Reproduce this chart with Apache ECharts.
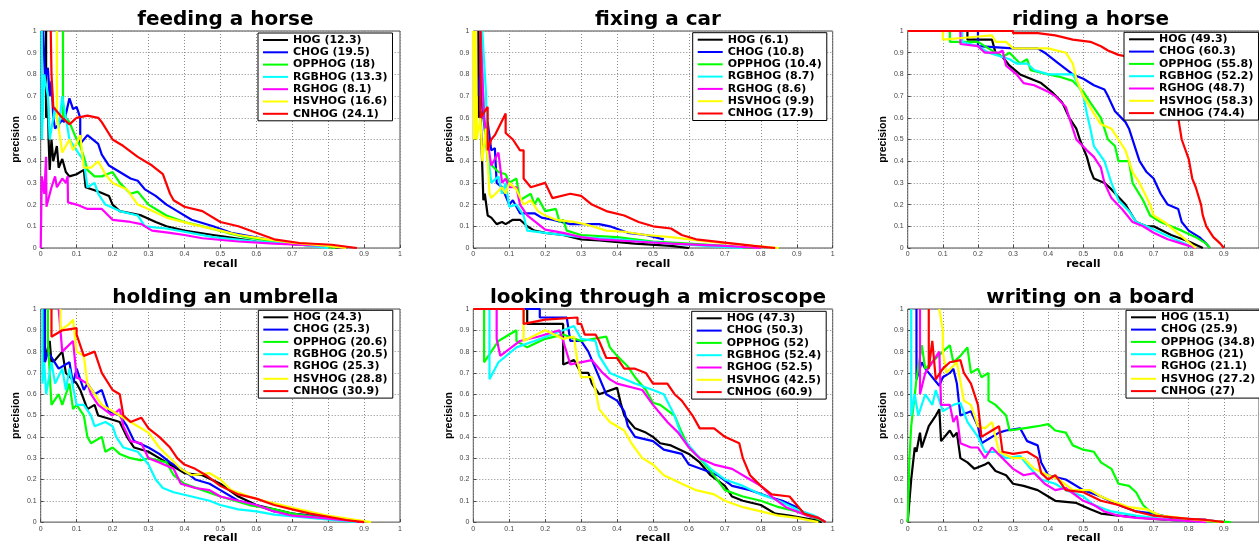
<!DOCTYPE html>
<html><head><meta charset="utf-8">
<script src="https://cdn.jsdelivr.net/npm/echarts@6/dist/echarts.min.js"></script>
<style>html,body{margin:0;padding:0;background:#fff}#c{width:1259px;height:545px}</style>
</head><body><div id="c"></div>
<script>
// ---------- DATA ----------
const METHODS = ['HOG','CHOG','OPPHOG','RGBHOG','RGHOG','HSVHOG','CNHOG'];
const TITLES = ['feeding a horse','fixing a car','riding a horse','holding an umbrella','looking through a microscope','writing on a board'];
const AP_feeding = [12.3,19.5,18,13.3,8.1,16.6,24.1];
const AP_fixing = [6.1,10.8,10.4,8.7,8.6,9.9,17.9];
const AP_riding = [49.3,60.3,55.8,52.2,48.7,58.3,74.4];
const AP_umbrella = [24.3,25.3,20.6,20.5,25.3,28.8,30.9];
const AP_micro = [47.3,50.3,52,52.4,52.5,42.5,60.9];
const AP_writing = [15.1,25.9,34.8,21,21.1,27.2,27];
const TICKS = [0,0.1,0.2,0.3,0.4,0.5,0.6,0.7,0.8,0.9,1];

// feeding a horse: [recall, precision]
const feeding_HOG = [[0.015,1],[0.015,0.6],[0.02,0.7],[0.022,0.5],[0.025,0.36],[0.03,0.5],[0.035,0.4],[0.045,0.47],[0.05,0.37],[0.06,0.41],[0.07,0.35],[0.08,0.33],[0.1,0.34],[0.12,0.36],[0.125,0.28],[0.16,0.26],[0.19,0.24],[0.2,0.2],[0.22,0.17],[0.28,0.15],[0.32,0.12],[0.35,0.1],[0.4,0.08],[0.48,0.06],[0.52,0.05],[0.6,0.03],[0.72,0.015],[0.85,0]];
const feeding_CHOG = [[0.007,1],[0.012,1],[0.012,0.78],[0.02,0.83],[0.025,0.7],[0.03,0.77],[0.035,0.6],[0.04,0.55],[0.06,0.59],[0.065,0.58],[0.08,0.69],[0.09,0.64],[0.1,0.65],[0.11,0.6],[0.11,0.48],[0.13,0.52],[0.16,0.48],[0.17,0.43],[0.19,0.38],[0.22,0.35],[0.25,0.32],[0.27,0.31],[0.29,0.27],[0.32,0.24],[0.35,0.2],[0.38,0.17],[0.42,0.13],[0.48,0.1],[0.53,0.07],[0.63,0.04]];
const feeding_OPPHOG = [[0.062,1],[0.062,0.61],[0.07,0.6],[0.08,0.58],[0.09,0.54],[0.1,0.5],[0.11,0.47],[0.12,0.42],[0.13,0.36],[0.15,0.33],[0.17,0.33],[0.2,0.35],[0.22,0.3],[0.25,0.25],[0.27,0.26],[0.3,0.2],[0.35,0.15],[0.4,0.12],[0.45,0.1],[0.52,0.07],[0.57,0.05],[0.65,0.03],[0.75,0.015],[0.82,0]];
const feeding_RGBHOG = [[0.003,1],[0.003,0.5],[0.01,0.8],[0.02,0.7],[0.025,0.5],[0.04,0.65],[0.05,0.55],[0.06,0.7],[0.07,0.6],[0.08,0.5],[0.1,0.45],[0.12,0.4],[0.13,0.28],[0.15,0.3],[0.16,0.25],[0.18,0.2],[0.22,0.17],[0.27,0.15],[0.29,0.1],[0.35,0.09],[0.4,0.075],[0.48,0.05],[0.6,0.03],[0.7,0.02],[0.8,0]];
const feeding_RGHOG = [[0,0],[0.003,0.33],[0.01,0.25],[0.015,0.42],[0.016,0.19],[0.03,0.28],[0.04,0.33],[0.045,0.28],[0.06,0.32],[0.07,0.3],[0.075,0.33],[0.076,0.21],[0.1,0.2],[0.13,0.18],[0.17,0.18],[0.2,0.13],[0.25,0.12],[0.28,0.11],[0.31,0.08],[0.36,0.07],[0.4,0.06],[0.45,0.045],[0.55,0.03],[0.65,0.02],[0.8,0.01],[0.85,0]];
const feeding_HSVHOG = [[0.045,1],[0.045,0.6],[0.05,0.55],[0.06,0.44],[0.08,0.5],[0.09,0.45],[0.11,0.52],[0.12,0.37],[0.14,0.37],[0.16,0.4],[0.18,0.34],[0.2,0.3],[0.24,0.27],[0.27,0.2],[0.3,0.18],[0.35,0.14],[0.42,0.11],[0.5,0.08],[0.55,0.06],[0.63,0.04],[0.7,0.025],[0.8,0.01],[0.85,0]];
const feeding_CNHOG = [[0.028,1],[0.03,1],[0.03,0.8],[0.035,0.65],[0.05,0.62],[0.06,0.6],[0.08,0.57],[0.1,0.6],[0.13,0.61],[0.16,0.6],[0.17,0.58],[0.2,0.5],[0.23,0.47],[0.27,0.42],[0.31,0.38],[0.34,0.34],[0.36,0.25],[0.37,0.22],[0.4,0.19],[0.45,0.17],[0.5,0.12],[0.55,0.1],[0.6,0.07],[0.65,0.04],[0.72,0.023],[0.81,0.015],[0.88,0]];

// fixing a car
const fixing_HOG = [[0.015,1],[0.015,0.6],[0.02,0.63],[0.028,0.22],[0.032,0.25],[0.04,0.15],[0.05,0.14],[0.065,0.11],[0.08,0.12],[0.09,0.11],[0.11,0.13],[0.13,0.13],[0.15,0.1],[0.17,0.08],[0.2,0.07],[0.25,0.06],[0.3,0.04],[0.35,0.035],[0.45,0.02],[0.55,0.01],[0.6,0]];
const fixing_CHOG = [[0.01,1],[0.012,0.7],[0.02,0.8],[0.025,0.65],[0.035,0.5],[0.04,0.58],[0.05,0.45],[0.06,0.46],[0.065,0.3],[0.08,0.28],[0.1,0.2],[0.11,0.22],[0.13,0.16],[0.17,0.16],[0.19,0.14],[0.22,0.13],[0.27,0.11],[0.35,0.11],[0.38,0.1],[0.43,0.07],[0.48,0.06],[0.53,0.04]];
const fixing_OPPHOG = [[0.02,1],[0.03,0.6],[0.04,0.4],[0.07,0.35],[0.09,0.34],[0.1,0.3],[0.12,0.32],[0.13,0.22],[0.16,0.25],[0.17,0.2],[0.18,0.23],[0.2,0.17],[0.23,0.18],[0.24,0.12],[0.25,0.13],[0.26,0.08],[0.3,0.06],[0.4,0.05],[0.5,0.03],[0.6,0.02],[0.7,0.01],[0.78,0]];
const fixing_RGBHOG = [[0.025,1],[0.035,0.72],[0.04,0.45],[0.05,0.3],[0.07,0.33],[0.08,0.25],[0.09,0.3],[0.1,0.19],[0.12,0.2],[0.14,0.15],[0.15,0.08],[0.2,0.07],[0.3,0.05],[0.4,0.04],[0.55,0.02],[0.65,0.01],[0.75,0]];
const fixing_RGHOG = [[0.02,1],[0.03,0.6],[0.05,0.38],[0.07,0.44],[0.08,0.3],[0.09,0.32],[0.1,0.28],[0.12,0.28],[0.13,0.2],[0.15,0.15],[0.2,0.085],[0.25,0.07],[0.3,0.05],[0.35,0.04],[0.45,0.03],[0.55,0.02],[0.7,0.01],[0.8,0]];
const fixing_HSVHOG = [[0,1],[0.002,0.5],[0.004,1],[0.006,0.5],[0.008,1],[0.01,0.5],[0.015,0.5],[0.02,0.6],[0.025,0.4],[0.035,0.55],[0.045,0.25],[0.05,0.23],[0.08,0.28],[0.09,0.25],[0.1,0.3],[0.12,0.27],[0.14,0.2],[0.16,0.22],[0.18,0.17],[0.2,0.15],[0.23,0.13],[0.28,0.12],[0.31,0.11],[0.33,0.1],[0.37,0.08],[0.42,0.075],[0.48,0.06],[0.55,0.05],[0.65,0.03],[0.75,0.015],[0.85,0]];
const fixing_CNHOG = [[0.02,1],[0.02,0.6],[0.04,0.65],[0.04,0.45],[0.05,0.5],[0.06,0.52],[0.09,0.62],[0.09,0.53],[0.11,0.5],[0.13,0.45],[0.14,0.45],[0.14,0.32],[0.16,0.28],[0.2,0.3],[0.22,0.23],[0.27,0.25],[0.3,0.24],[0.33,0.2],[0.37,0.17],[0.42,0.15],[0.46,0.12],[0.5,0.1],[0.55,0.09],[0.58,0.06],[0.62,0.04],[0.7,0.025],[0.78,0.01],[0.84,0]];

// riding a horse
const riding_HOG = [[0,1],[0.17,1],[0.17,0.96],[0.24,0.96],[0.25,0.9],[0.27,0.88],[0.29,0.84],[0.32,0.8],[0.35,0.78],[0.38,0.76],[0.41,0.72],[0.44,0.67],[0.46,0.6],[0.48,0.55],[0.49,0.5],[0.51,0.42],[0.52,0.36],[0.53,0.32],[0.56,0.3],[0.58,0.27],[0.62,0.2],[0.65,0.12],[0.68,0.1],[0.7,0.1],[0.75,0.06],[0.8,0.03],[0.84,0]];
const riding_CHOG = [[0,1],[0.2,1],[0.2,0.93],[0.3,0.92],[0.37,0.92],[0.39,0.9],[0.43,0.85],[0.47,0.8],[0.5,0.78],[0.53,0.75],[0.56,0.73],[0.57,0.7],[0.59,0.63],[0.62,0.58],[0.63,0.55],[0.65,0.45],[0.66,0.4],[0.68,0.35],[0.7,0.32],[0.72,0.25],[0.74,0.2],[0.77,0.18],[0.78,0.12],[0.8,0.08],[0.83,0.05],[0.85,0.02],[0.86,0]];
const riding_OPPHOG = [[0,1],[0.12,1],[0.12,0.95],[0.2,0.95],[0.23,0.92],[0.27,0.88],[0.29,0.9],[0.32,0.85],[0.34,0.87],[0.35,0.82],[0.4,0.8],[0.43,0.79],[0.47,0.77],[0.5,0.72],[0.52,0.67],[0.55,0.6],[0.57,0.5],[0.59,0.47],[0.6,0.4],[0.63,0.4],[0.64,0.3],[0.67,0.22],[0.69,0.15],[0.72,0.12],[0.75,0.1],[0.78,0.08],[0.82,0.05],[0.85,0.02],[0.86,0]];
const riding_RGBHOG = [[0,1],[0.155,1],[0.155,0.95],[0.2,0.93],[0.23,0.9],[0.27,0.88],[0.29,0.87],[0.31,0.85],[0.34,0.85],[0.36,0.82],[0.4,0.8],[0.47,0.8],[0.48,0.77],[0.5,0.7],[0.51,0.62],[0.52,0.55],[0.53,0.47],[0.56,0.4],[0.57,0.35],[0.58,0.3],[0.6,0.22],[0.63,0.17],[0.65,0.12],[0.68,0.1],[0.72,0.07],[0.76,0.04],[0.79,0.02],[0.81,0]];
const riding_RGHOG = [[0,1],[0.15,1],[0.15,0.94],[0.2,0.93],[0.22,0.9],[0.26,0.9],[0.27,0.91],[0.28,0.84],[0.31,0.8],[0.33,0.76],[0.36,0.75],[0.4,0.72],[0.42,0.7],[0.45,0.65],[0.46,0.6],[0.47,0.55],[0.48,0.5],[0.51,0.45],[0.53,0.42],[0.55,0.37],[0.56,0.3],[0.58,0.23],[0.61,0.18],[0.64,0.12],[0.67,0.1],[0.7,0.07],[0.74,0.04],[0.78,0.02],[0.82,0]];
const riding_HSVHOG = [[0,1],[0.1,1],[0.1,0.96],[0.17,0.97],[0.24,0.98],[0.25,0.95],[0.28,0.95],[0.3,0.92],[0.4,0.92],[0.45,0.9],[0.47,0.85],[0.48,0.78],[0.5,0.7],[0.53,0.62],[0.55,0.57],[0.58,0.55],[0.6,0.5],[0.62,0.45],[0.64,0.35],[0.66,0.3],[0.69,0.2],[0.7,0.15],[0.73,0.12],[0.76,0.08],[0.79,0.04],[0.82,0]];
const riding_CNHOG = [[0,1],[0.3,1],[0.3,0.99],[0.37,0.99],[0.42,0.98],[0.47,0.96],[0.52,0.95],[0.55,0.93],[0.57,0.91],[0.6,0.89],[0.63,0.88],[0.68,0.85],[0.72,0.8],[0.75,0.72],[0.77,0.6],[0.78,0.5],[0.8,0.41],[0.81,0.32],[0.82,0.28],[0.835,0.2],[0.84,0.15],[0.85,0.1],[0.87,0.05],[0.89,0.02],[0.9,0]];

// holding an umbrella
const umbrella_HOG = [[0.01,1],[0.01,0.75],[0.025,0.85],[0.03,0.75],[0.04,0.76],[0.06,0.8],[0.07,0.7],[0.1,0.65],[0.11,0.62],[0.13,0.53],[0.15,0.55],[0.16,0.5],[0.2,0.48],[0.22,0.47],[0.24,0.4],[0.26,0.35],[0.3,0.33],[0.33,0.3],[0.36,0.27],[0.4,0.23],[0.45,0.22],[0.5,0.18],[0.55,0.12],[0.6,0.08],[0.65,0.06],[0.7,0.04],[0.75,0.03],[0.8,0.02],[0.85,0.01],[0.9,0]];
const umbrella_CHOG = [[0.012,1],[0.012,0.75],[0.02,0.8],[0.05,0.72],[0.08,0.75],[0.09,0.65],[0.1,0.72],[0.12,0.62],[0.13,0.65],[0.15,0.6],[0.17,0.62],[0.19,0.52],[0.22,0.5],[0.24,0.45],[0.26,0.38],[0.3,0.35],[0.33,0.32],[0.36,0.28],[0.4,0.24],[0.43,0.2],[0.47,0.18],[0.5,0.15],[0.55,0.1],[0.6,0.08],[0.65,0.05],[0.7,0.04],[0.75,0.03],[0.82,0.015],[0.9,0]];
const umbrella_OPPHOG = [[0.02,1],[0.02,0.85],[0.03,0.55],[0.05,0.6],[0.06,0.55],[0.07,0.6],[0.08,0.65],[0.09,0.53],[0.1,0.55],[0.12,0.5],[0.13,0.4],[0.14,0.37],[0.17,0.4],[0.18,0.33],[0.2,0.35],[0.22,0.32],[0.25,0.3],[0.28,0.29],[0.3,0.3],[0.35,0.28],[0.37,0.22],[0.4,0.18],[0.45,0.15],[0.5,0.12],[0.58,0.08],[0.65,0.06],[0.7,0.04],[0.78,0.02],[0.88,0]];
const umbrella_RGBHOG = [[0.005,1],[0.005,0.65],[0.01,0.75],[0.015,0.6],[0.03,0.75],[0.04,0.65],[0.06,0.72],[0.07,0.62],[0.08,0.72],[0.1,0.55],[0.12,0.55],[0.14,0.5],[0.15,0.45],[0.18,0.47],[0.2,0.45],[0.21,0.4],[0.23,0.35],[0.27,0.33],[0.3,0.27],[0.32,0.2],[0.34,0.16],[0.37,0.14],[0.42,0.12],[0.47,0.1],[0.5,0.08],[0.55,0.06],[0.6,0.05],[0.65,0.035],[0.75,0.02],[0.88,0]];
const umbrella_RGHOG = [[0.05,1],[0.055,0.9],[0.06,0.8],[0.09,0.85],[0.1,0.68],[0.13,0.65],[0.14,0.6],[0.16,0.55],[0.2,0.5],[0.22,0.53],[0.23,0.45],[0.25,0.38],[0.28,0.37],[0.3,0.3],[0.33,0.28],[0.37,0.25],[0.39,0.18],[0.43,0.16],[0.47,0.15],[0.5,0.12],[0.55,0.1],[0.6,0.08],[0.65,0.05],[0.7,0.03],[0.78,0.02],[0.9,0]];
const umbrella_HSVHOG = [[0.055,1],[0.055,0.9],[0.08,0.93],[0.09,0.95],[0.1,0.8],[0.12,0.78],[0.13,0.65],[0.15,0.6],[0.17,0.55],[0.2,0.52],[0.22,0.5],[0.25,0.47],[0.27,0.45],[0.3,0.42],[0.33,0.35],[0.36,0.3],[0.39,0.25],[0.42,0.22],[0.47,0.23],[0.5,0.2],[0.53,0.15],[0.58,0.12],[0.62,0.1],[0.67,0.08],[0.72,0.06],[0.8,0.03],[0.88,0.01],[0.92,0]];
const umbrella_CNHOG = [[0.03,1],[0.03,0.87],[0.06,0.9],[0.1,0.91],[0.1,0.88],[0.12,0.78],[0.15,0.8],[0.17,0.7],[0.2,0.62],[0.22,0.6],[0.23,0.5],[0.25,0.47],[0.28,0.49],[0.3,0.44],[0.33,0.4],[0.36,0.35],[0.38,0.3],[0.4,0.27],[0.43,0.25],[0.46,0.22],[0.5,0.17],[0.55,0.13],[0.6,0.11],[0.65,0.08],[0.7,0.06],[0.75,0.04],[0.8,0.025],[0.85,0.01],[0.9,0]];

// looking through a microscope
const micro_HOG = [[0,1],[0.15,1],[0.15,0.93],[0.25,0.93],[0.25,0.74],[0.28,0.76],[0.3,0.7],[0.32,0.7],[0.33,0.65],[0.35,0.6],[0.4,0.63],[0.41,0.56],[0.42,0.5],[0.45,0.44],[0.48,0.42],[0.5,0.4],[0.52,0.37],[0.55,0.36],[0.6,0.32],[0.63,0.28],[0.66,0.22],[0.7,0.17],[0.72,0.12],[0.75,0.1],[0.8,0.08],[0.84,0.04],[0.88,0.03],[0.95,0.01],[0.97,0]];
const micro_CHOG = [[0,1],[0.185,1],[0.185,0.96],[0.26,0.96],[0.27,0.85],[0.3,0.85],[0.32,0.8],[0.33,0.76],[0.35,0.68],[0.37,0.6],[0.4,0.57],[0.42,0.52],[0.43,0.45],[0.45,0.4],[0.5,0.38],[0.53,0.34],[0.58,0.32],[0.6,0.27],[0.65,0.24],[0.68,0.22],[0.72,0.17],[0.77,0.15],[0.82,0.12],[0.86,0.1],[0.9,0.07],[0.93,0.03],[0.97,0.01],[0.98,0]];
const micro_OPPHOG = [[0.03,1],[0.03,0.75],[0.07,0.85],[0.12,0.9],[0.12,0.85],[0.15,0.82],[0.2,0.86],[0.25,0.88],[0.3,0.85],[0.37,0.87],[0.38,0.82],[0.4,0.78],[0.43,0.73],[0.45,0.68],[0.48,0.62],[0.5,0.56],[0.52,0.55],[0.56,0.5],[0.58,0.42],[0.6,0.35],[0.63,0.3],[0.66,0.24],[0.7,0.15],[0.75,0.12],[0.8,0.1],[0.85,0.07],[0.9,0.05],[0.95,0.02],[0.98,0]];
const micro_RGBHOG = [[0.045,1],[0.045,0.67],[0.07,0.75],[0.12,0.82],[0.17,0.85],[0.25,0.9],[0.28,0.92],[0.3,0.86],[0.34,0.85],[0.35,0.78],[0.38,0.7],[0.45,0.65],[0.5,0.62],[0.53,0.6],[0.56,0.5],[0.58,0.4],[0.62,0.32],[0.66,0.25],[0.7,0.2],[0.75,0.17],[0.8,0.13],[0.85,0.1],[0.9,0.06],[0.95,0.03],[0.98,0]];
const micro_RGHOG = [[0.065,1],[0.065,0.86],[0.075,0.78],[0.13,0.85],[0.18,0.87],[0.24,0.9],[0.25,0.85],[0.27,0.74],[0.33,0.76],[0.36,0.7],[0.38,0.67],[0.4,0.65],[0.47,0.62],[0.5,0.55],[0.54,0.47],[0.57,0.42],[0.6,0.35],[0.63,0.3],[0.67,0.27],[0.72,0.25],[0.77,0.2],[0.8,0.17],[0.83,0.12],[0.87,0.07],[0.93,0.03],[0.96,0.02],[0.98,0]];
const micro_HSVHOG = [[0,1],[0.14,1],[0.14,0.85],[0.2,0.9],[0.25,0.86],[0.28,0.87],[0.29,0.75],[0.3,0.68],[0.33,0.68],[0.34,0.62],[0.35,0.53],[0.38,0.47],[0.42,0.43],[0.44,0.37],[0.47,0.3],[0.5,0.27],[0.53,0.22],[0.58,0.18],[0.62,0.15],[0.67,0.13],[0.7,0.1],[0.75,0.07],[0.8,0.05],[0.85,0.03],[0.9,0.02],[0.96,0]];
const micro_CNHOG = [[0,1],[0.14,1],[0.14,0.93],[0.2,0.95],[0.29,0.96],[0.29,0.93],[0.3,0.93],[0.31,0.88],[0.34,0.88],[0.35,0.85],[0.37,0.77],[0.4,0.77],[0.42,0.72],[0.45,0.72],[0.48,0.7],[0.5,0.65],[0.54,0.65],[0.56,0.6],[0.58,0.57],[0.61,0.5],[0.63,0.44],[0.67,0.44],[0.7,0.4],[0.74,0.37],[0.75,0.3],[0.77,0.22],[0.8,0.17],[0.83,0.13],[0.88,0.12],[0.9,0.08],[0.92,0.04],[0.96,0.02],[0.98,0]];

// writing on a board
const writing_HOG = [[0,0],[0.01,0.2],[0.02,0.35],[0.025,0.33],[0.035,0.42],[0.04,0.35],[0.06,0.45],[0.08,0.5],[0.09,0.53],[0.095,0.38],[0.12,0.43],[0.13,0.4],[0.14,0.42],[0.15,0.3],[0.17,0.28],[0.19,0.25],[0.22,0.27],[0.23,0.28],[0.25,0.24],[0.28,0.22],[0.3,0.18],[0.33,0.17],[0.37,0.15],[0.4,0.12],[0.42,0.1],[0.48,0.09],[0.52,0.06],[0.55,0.04],[0.6,0.03],[0.7,0.015],[0.8,0.005],[0.85,0]];
const writing_CHOG = [[0.025,1],[0.025,0.67],[0.04,0.75],[0.05,0.72],[0.09,0.64],[0.1,0.68],[0.12,0.7],[0.13,0.72],[0.14,0.65],[0.15,0.5],[0.18,0.52],[0.2,0.45],[0.21,0.37],[0.26,0.42],[0.28,0.43],[0.32,0.44],[0.34,0.38],[0.37,0.36],[0.38,0.28],[0.4,0.22],[0.45,0.2],[0.5,0.15],[0.55,0.12],[0.6,0.08],[0.65,0.05],[0.7,0.04],[0.75,0.02],[0.85,0.01],[0.9,0]];
const writing_OPPHOG = [[0,0],[0.005,0.3],[0.01,0.45],[0.025,0.67],[0.04,0.83],[0.05,0.72],[0.1,0.8],[0.12,0.83],[0.13,0.75],[0.15,0.78],[0.17,0.82],[0.18,0.7],[0.2,0.72],[0.21,0.68],[0.23,0.7],[0.23,0.57],[0.25,0.55],[0.28,0.5],[0.29,0.43],[0.33,0.44],[0.37,0.45],[0.4,0.46],[0.42,0.43],[0.45,0.42],[0.47,0.36],[0.5,0.34],[0.53,0.33],[0.55,0.28],[0.58,0.25],[0.6,0.18],[0.63,0.17],[0.65,0.14],[0.67,0.08],[0.69,0.05],[0.72,0.03],[0.78,0.015],[0.85,0.005],[0.92,0]];
const writing_RGBHOG = [[0.01,1],[0.01,0.5],[0.02,0.6],[0.03,0.5],[0.05,0.6],[0.07,0.55],[0.08,0.62],[0.1,0.52],[0.13,0.55],[0.15,0.56],[0.17,0.47],[0.2,0.4],[0.22,0.33],[0.25,0.33],[0.28,0.3],[0.32,0.31],[0.35,0.25],[0.38,0.2],[0.42,0.18],[0.45,0.15],[0.5,0.12],[0.53,0.08],[0.58,0.05],[0.65,0.03],[0.75,0.01],[0.85,0]];
const writing_RGHOG = [[0.035,1],[0.035,0.6],[0.05,0.7],[0.09,0.8],[0.095,0.55],[0.12,0.55],[0.13,0.47],[0.14,0.5],[0.15,0.37],[0.18,0.35],[0.2,0.35],[0.22,0.3],[0.24,0.35],[0.27,0.3],[0.3,0.25],[0.33,0.22],[0.36,0.23],[0.39,0.18],[0.42,0.15],[0.45,0.16],[0.5,0.1],[0.53,0.08],[0.56,0.05],[0.6,0.03],[0.65,0.02],[0.75,0.01],[0.85,0]];
const writing_HSVHOG = [[0.09,1],[0.1,0.9],[0.1,0.8],[0.11,0.7],[0.14,0.75],[0.16,0.57],[0.18,0.55],[0.2,0.45],[0.22,0.44],[0.24,0.47],[0.26,0.33],[0.3,0.3],[0.33,0.3],[0.36,0.25],[0.4,0.22],[0.43,0.2],[0.47,0.15],[0.52,0.15],[0.55,0.12],[0.58,0.1],[0.63,0.07],[0.68,0.06],[0.72,0.03],[0.8,0.015],[0.9,0]];
const writing_CNHOG = [[0.06,1],[0.06,0.72],[0.07,0.85],[0.08,0.67],[0.1,0.72],[0.12,0.75],[0.15,0.76],[0.16,0.7],[0.18,0.65],[0.2,0.55],[0.21,0.4],[0.24,0.43],[0.26,0.45],[0.27,0.33],[0.3,0.32],[0.34,0.33],[0.37,0.3],[0.38,0.23],[0.4,0.2],[0.42,0.22],[0.45,0.15],[0.5,0.14],[0.55,0.1],[0.6,0.08],[0.65,0.05],[0.7,0.03],[0.8,0.015],[0.85,0.01],[0.9,0]];

// ---------- ASSEMBLY ----------
const PANELS = [
  {ap: AP_feeding,  curves: [feeding_HOG,feeding_CHOG,feeding_OPPHOG,feeding_RGBHOG,feeding_RGHOG,feeding_HSVHOG,feeding_CNHOG]},
  {ap: AP_fixing,   curves: [fixing_HOG,fixing_CHOG,fixing_OPPHOG,fixing_RGBHOG,fixing_RGHOG,fixing_HSVHOG,fixing_CNHOG]},
  {ap: AP_riding,   curves: [riding_HOG,riding_CHOG,riding_OPPHOG,riding_RGBHOG,riding_RGHOG,riding_HSVHOG,riding_CNHOG]},
  {ap: AP_umbrella, curves: [umbrella_HOG,umbrella_CHOG,umbrella_OPPHOG,umbrella_RGBHOG,umbrella_RGHOG,umbrella_HSVHOG,umbrella_CNHOG]},
  {ap: AP_micro,    curves: [micro_HOG,micro_CHOG,micro_OPPHOG,micro_RGBHOG,micro_RGHOG,micro_HSVHOG,micro_CNHOG]},
  {ap: AP_writing,  curves: [writing_HOG,writing_CHOG,writing_OPPHOG,writing_RGBHOG,writing_RGHOG,writing_HSVHOG,writing_CNHOG]}
];

// layout / style
const COLORS = ['#000000','#0000ff','#00ff00','#00ffff','#ff00ff','#ffff00','#ff0000'];
const COL_LEFT = [40.7, 473.3, 907.7];
const COL_W = [359.3, 359.4, 355.6];
const ROW_TOP = [31, 309];
const ROW_H = [217, 218];
const LEG_POS = [[258,33],[692.7,32.7],[1124,32.3],[258.3,310.3],[691.7,311.3],[1126,310.3]];
const BOLD = 'DejaVu Sans';

const grid=[], xAxis=[], yAxis=[], series=[], legend=[], title=[];
PANELS.forEach((p, i) => {
  const r = Math.floor(i/3), c = i%3;
  const left = COL_LEFT[c], top = ROW_TOP[r], w = COL_W[c], h = ROW_H[r];
  grid.push({left:left, top:top, width:w, height:h, show:true, borderColor:'#4a4a4a', borderWidth:1, backgroundColor:'#fff', containLabel:false});
  const axisCommon = {
    type:'value', min:0, max:1, interval:0.1, gridIndex:i,
    axisLine:{show:false},
    axisTick:{show:true, inside:true, length:3, lineStyle:{color:'#4a4a4a'}},
    splitLine:{show:true, lineStyle:{color:'#8a8a8a', type:[1,2], width:1}}
  };
  xAxis.push(Object.assign({}, axisCommon, {
    name:'recall', nameLocation:'middle', nameGap:9.5,
    nameTextStyle:{fontFamily:BOLD, fontWeight:'bold', fontSize:11, color:'#000', verticalAlign:'top'},
    axisLabel:{fontSize:7, color:'#444', margin:3, fontFamily:'Liberation Sans', showMaxLabel: c!==2},
  }));
  yAxis.push(Object.assign({}, axisCommon, {
    name:'precision', nameLocation:'middle', nameGap:19, nameRotate:90,
    nameTextStyle:{fontFamily:'Liberation Sans', fontWeight:'bold', fontSize:10.5, color:'#000'},
    axisLabel:{fontSize:7, color:'#444', margin:4, fontFamily:'Liberation Sans'}
  }));
  title.push({text: TITLES[i], left: left + w/2, top: top - 26, textAlign:'center',
    textStyle:{fontFamily:BOLD, fontWeight:'bold', fontSize:20, color:'#000'}});
  const names = METHODS.map((m, k) => m + ' (' + p.ap[k] + ')');
  p.curves.forEach((d, k) => {
    series.push({type:'line', name:names[k], xAxisIndex:i, yAxisIndex:i, data:d,
      showSymbol:false, symbol:'none', color:COLORS[k], lineStyle:{width:2.2, color:COLORS[k]},
      clip:true, z:2+k, animation:false});
  });
  legend.push({data:names, orient:'vertical', left:LEG_POS[i][0], top:LEG_POS[i][1],
    backgroundColor:'#fff', borderColor:'#000', borderWidth:1, padding:[1,5,1,5],
    itemWidth:25, itemHeight:2, itemGap:0.3, icon:'rect', selectedMode:false, z:10,
    textStyle:{fontFamily:BOLD, fontWeight:'bold', fontSize:11, color:'#000', lineHeight:12}});
});

const chart = echarts.init(document.getElementById('c'), null, {renderer:'canvas'});
chart.setOption({animation:false, backgroundColor:'#fff', title, grid, xAxis, yAxis, legend, series});
</script></body></html>
